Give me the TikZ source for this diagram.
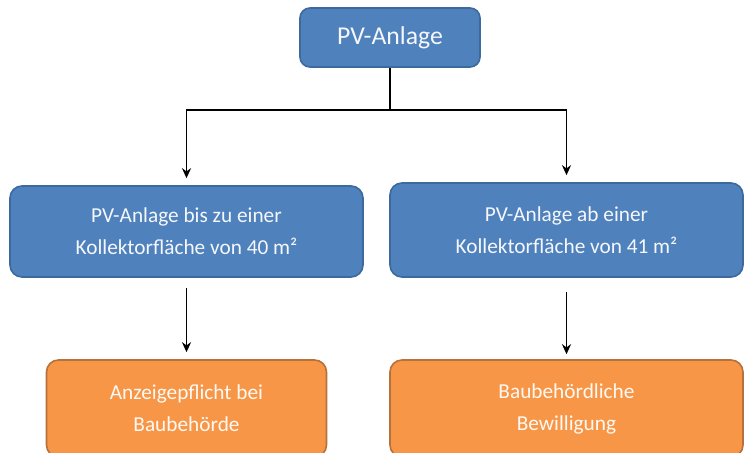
\documentclass[tikz,border=0pt]{standalone}
\usepackage{fontspec}
\setmainfont{Carlito}
\usepackage{xcolor}
\usepackage{tikz}
\usetikzlibrary{positioning, arrows.meta}
\definecolor{pvblue}{HTML}{4F81BD}
\definecolor{pvblueline}{HTML}{3C6A9C}
\definecolor{pvorange}{HTML}{F79646}
\definecolor{pvorangeline}{HTML}{B7713A}
\tikzstyle{arrow} = [line width=1.8pt,-{Stealth[length=10pt,width=9pt]}]

\begin{document}
\begin{tikzpicture}[
			x=1pt, y=-1pt,
			bluebox/.style={draw=pvblueline, line width=1.6pt, fill=pvblue, text=white!94!pvblue, rounded corners=12pt, align=center, inner sep=0pt, font=\fontsize{21.3}{32}\selectfont},
			orangebox/.style={bluebox, draw=pvorangeline, fill=pvorange, text=white!94!pvorange}
			]
			\useasboundingbox (0,0) rectangle (746,452);
			
			\node[bluebox, minimum width=180pt, minimum height=59pt, rounded corners=10pt, font=\fontsize{25.7}{30}\selectfont] (pv) at (390,37.5) {PV-Anlage};
			
			\node[bluebox, minimum width=353pt, minimum height=91pt] (small) at (186.5,231.5) {PV-Anlage bis zu einer\\Kollektorfläche von 40 m²};
			\node[bluebox, minimum width=353pt, minimum height=94pt] (large) at (566.5,230) {PV-Anlage ab einer\\Kollektorfläche von 41 m²};
			
			\node[orangebox, minimum width=280pt, minimum height=97pt] (notice) at (186.5,408.5) {Anzeigepflicht bei\\Baubehörde};
			\node[orangebox, minimum width=353pt, minimum height=97pt] (permit) at (566.5,408.5) {Baubehördliche\\Bewilligung};
			
			\coordinate (split) at (390,110);
			\draw[line width=1.8pt] (pv) -- (split);
			\draw[arrow, shorten >=7pt] (split) -| (small.north);
			\draw[arrow, shorten >=7pt] (split) -| (large.north);
			
			\draw[arrow, shorten <=10pt, shorten >=7pt] (small) -- (notice);
			\draw[arrow, shorten <=14pt, shorten >=5pt] (large) -- (permit);
		\end{tikzpicture}
\end{document}
